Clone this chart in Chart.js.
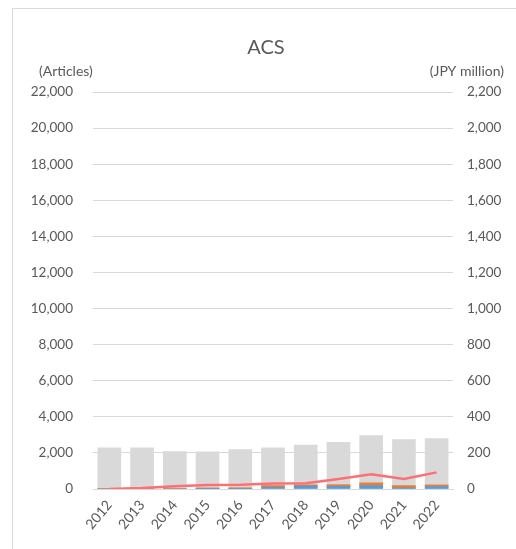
<!DOCTYPE html>
<html>
<head>
<meta charset="utf-8">
<script src="https://cdn.jsdelivr.net/npm/chart.js@4/dist/chart.umd.min.js"></script>
<style>
  html, body { margin: 0; padding: 0; background: #fff; }
  #frame { position: absolute; left: 12px; top: 8px; width: 700px; height: 700px; border: 1px solid #d9d9d9; box-sizing: border-box; }
  #wrap { position: absolute; left: 0; top: 0; width: 516px; height: 549px; }
</style>
</head>
<body>
<div id="frame"></div>
<div id="wrap"><canvas id="c" width="516" height="549"></canvas></div>
<script>
const years = ['2012','2013','2014','2015','2016','2017','2018','2019','2020','2021','2022'];
const totalArticles = [2280, 2280, 2070, 2060, 2180, 2280, 2440, 2590, 2960, 2740, 2790];
const blueArticles = [0, 0, 0, 20, 20, 100, 170, 150, 190, 60, 140];
const orangeArticles = [10, 10, 20, 40, 50, 90, 60, 90, 150, 130, 90];
const fundingJPY = [0, 5, 15, 22, 24, 31, 32, 56, 82, 56, 92];
const leftTicks = [0, 2000, 4000, 6000, 8000, 10000, 12000, 14000, 16000, 18000, 20000, 22000];
const rightTicks = [0, 200, 400, 600, 800, 1000, 1200, 1400, 1600, 1800, 2000, 2200];

const FONT = 'Lato';
const TXT = '#595959';
const fmt = v => Number(v).toLocaleString('en-US');

const textPlugin = {
  id: 'texts',
  afterDraw(chart) {
    const ctx = chart.ctx;
    ctx.save();
    ctx.fillStyle = TXT;
    ctx.textBaseline = 'alphabetic';
    ctx.font = '20px ' + FONT;
    ctx.textAlign = 'center';
    ctx.fillText('ACS', 266, 54);
    ctx.font = '14px ' + FONT;
    ctx.textAlign = 'left';
    ctx.fillText('(Articles)', 39, 76);
    ctx.textAlign = 'right';
    ctx.fillText('(JPY million)', 504, 76);
    ctx.restore();
  }
};

new Chart(document.getElementById('c'), {
  data: {
    labels: years,
    datasets: [
      { type: 'line', label: 'Funding', data: fundingJPY, yAxisID: 'y1', borderColor: '#ff7075', backgroundColor: '#ff7075', borderWidth: 2.5, pointRadius: 0, tension: 0, order: 0 },
      { type: 'bar', label: 'A', data: blueArticles, yAxisID: 'y', stack: 'sub', backgroundColor: '#5b9bd5', grouped: false, barThickness: 23, order: 1 },
      { type: 'bar', label: 'B', data: orangeArticles, yAxisID: 'y', stack: 'sub', backgroundColor: '#ed7d31', grouped: false, barThickness: 23, order: 1 },
      { type: 'bar', label: 'Total', data: totalArticles, yAxisID: 'y', stack: 'total', backgroundColor: '#d9d9d9', grouped: false, barThickness: 23, order: 5 }
    ]
  },
  options: {
    responsive: false,
    animation: false,
    layout: { padding: { top: 92, left: 0, right: 0, bottom: 0 } },
    plugins: { legend: { display: false }, title: { display: false }, tooltip: { enabled: false } },
    scales: {
      x: {
        offset: true,
        grid: { display: false, drawTicks: false },
        border: { display: true, color: '#d9d9d9' },
        ticks: { color: TXT, font: { family: FONT, size: 14 }, maxRotation: 50, minRotation: 50, padding: 8, autoSkip: false },
        afterFit(s) { s.height = 60; }
      },
      y: {
        position: 'left',
        stacked: true,
        min: 0, max: 22000,
        afterBuildTicks(s) { s.ticks = leftTicks.map(v => ({ value: v })); },
        grid: { color: '#d9d9d9', drawTicks: false },
        border: { display: false },
        ticks: { color: TXT, font: { family: FONT, size: 13.5 }, padding: 20, callback: v => fmt(v) },
        afterFit(s) { s.width = 93; }
      },
      y1: {
        position: 'right',
        min: 0, max: 2200,
        afterBuildTicks(s) { s.ticks = rightTicks.map(v => ({ value: v })); },
        grid: { display: false, drawTicks: false },
        border: { display: false },
        ticks: { color: TXT, font: { family: FONT, size: 13.5 }, padding: 14, callback: v => fmt(v) },
        afterFit(s) { s.width = 63; }
      }
    }
  },
  plugins: [textPlugin]
});
</script>
</body>
</html>
